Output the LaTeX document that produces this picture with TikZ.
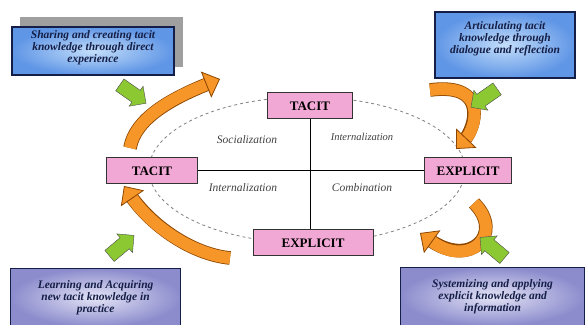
\documentclass[tikz,border=0pt]{standalone}
\usepackage{fontspec}
\setmainfont{Liberation Serif}
\usepackage{tikz}
\usetikzlibrary{positioning,arrows.meta,shapes.arrows}
\definecolor{pinkbox}{RGB}{242,168,212}
\definecolor{blueedge}{RGB}{96,150,230}
\definecolor{bluemid}{RGB}{195,222,250}
\definecolor{lilacedge}{RGB}{140,140,205}
\definecolor{lilacmid}{RGB}{228,228,246}
\definecolor{cycorange}{RGB}{247,150,40}
\definecolor{leafgreen}{RGB}{140,200,50}
\definecolor{inknavy}{RGB}{20,30,70}

\begin{document}
\begin{tikzpicture}[x=1pt,y=1pt,
  quad/.style={draw=black!80,line width=1pt,fill=pinkbox,minimum height=26pt,font=\fontsize{13}{14}\selectfont\bfseries},
  note/.style={draw=inknavy,line width=1.2pt,align=center,text=inknavy,font=\fontsize{11.5}{12}\selectfont\bfseries\itshape,inner sep=0pt},
  bluenote/.style={note,inner color=bluemid,outer color=blueedge},
  lilacnote/.style={note,inner color=lilacmid,outer color=lilacedge},
  mode/.style={font=\fontsize{11.5}{12}\selectfont\itshape,text=black!75},
  swirl/.style={line width=12pt,cycorange,-{Triangle[length=15pt,width=28pt,line width=0.8pt,color=orange!55!black,fill=cycorange]},
    preaction={draw=orange!55!black,line width=13.6pt,shorten >=11pt,-}},
  push/.style={single arrow,draw=black!70,fill=leafgreen,minimum height=32pt,inner xsep=0pt,inner ysep=7pt,single arrow head extend=5pt},
]
\useasboundingbox (0,0) rectangle (586,324);
\clip (0,0) rectangle (586,324);

% the cycle
\draw[dashed,gray,line width=0.8pt] (307,154) ellipse [x radius=158, y radius=73];
\node[quad,minimum width=85pt] (tacittop) at (310,218) {TACIT};
\node[quad,minimum width=91pt] (tacitleft) at (152,153) {TACIT};
\node[quad,minimum width=87pt] (explright) at (468,153) {EXPLICIT};
\node[quad,minimum width=120pt] (explbot) at (313,81) {EXPLICIT};
\draw[line width=1pt] (tacittop.south) -- (tacittop.south |- explbot.north);
\draw[line width=1pt] (tacitleft.east) -- (explright.west);

\node[mode] (soc) at (247,184) {Socialization};
\node[mode,font=\fontsize{10.5}{11}\selectfont\itshape] (ext) at (362,187) {Internalization};
\node[mode] (int) at (243,136) {Internalization};
\node[mode] (comb) at (362,136) {Combination};

% orange arrows
\draw[swirl] (130,176) .. controls (135,205) and (170,225) .. (220,245);
\draw[swirl] (430,234) .. controls (490,242) and (475,195) .. (456,175);
\draw[swirl] (474,121) .. controls (505,90) and (470,55) .. (420,91);
\draw[swirl] (230,66) .. controls (190,70) and (150,100) .. (124,138);

% notes
\node[fill=gray!75,minimum width=163pt,minimum height=50pt] (sharingshadow) at (101.5,282) {};
\node[bluenote,minimum width=162pt,minimum height=48pt,text depth=9pt] (sharing) at (93,273)
  {Sharing and creating tacit\\knowledge through direct\\experience};
\node[bluenote,minimum width=140pt,minimum height=66pt,text depth=15pt] (articulating) at (505,279)
  {Articulating tacit\\knowledge through\\dialogue and reflection};
\node[lilacnote,minimum width=170pt,minimum height=58pt,anchor=north west] (learning) at (10,56)
  {Learning and Acquiring\\new tacit knowledge in\\practice};
\node[lilacnote,minimum width=184pt,minimum height=58pt,anchor=north west] (systemizing) at (400,57)
  {Systemizing and applying\\explicit knowledge and\\information};

\node[push,rotate=-35] (pushsharing) at (130,232) {};
\node[push,rotate=-145] (pusharticulating) at (487,228) {};
\node[push,rotate=40] (pushlearning) at (119,76) {};
\node[push,rotate=140] (pushsystemizing) at (495,74) {};
\end{tikzpicture}
\end{document}
